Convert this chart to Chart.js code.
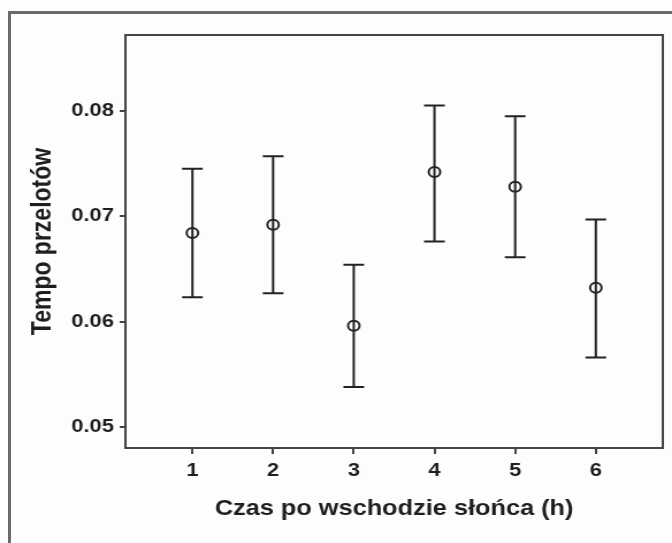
<!DOCTYPE html>
<html>
<head>
<meta charset="utf-8">
<script src="https://cdn.jsdelivr.net/npm/chart.js@4.4.1/dist/chart.umd.min.js"></script>
<style>
  html, body { margin: 0; padding: 0; background: #fdfdfd; overflow: hidden; }
  #frame {
    position: absolute; left: 8px; top: 11px; width: 720px; height: 600px;
    border: 3px solid #6a6a6a; box-sizing: border-box;
  }
  /* figure is drawn narrower and stretched sideways, like the original export */
  #wrap {
    position: absolute; left: 0; top: 0; width: 584px; height: 543px;
    transform: scaleX(1.1507); transform-origin: 0 0;
  }
</style>
</head>
<body>
<div id="frame"></div>
<div id="wrap"><canvas id="chart"></canvas></div>
<script>
let hours = [1, 2, 3, 4, 5, 6]
let tempo = [0.0684, 0.0692, 0.0596, 0.0742, 0.0728, 0.0632]
let tempoLow = [0.0623, 0.0627, 0.0538, 0.0676, 0.0661, 0.0566]
let tempoHigh = [0.0745, 0.0757, 0.0654, 0.0805, 0.0795, 0.0697]
let xTicks = [1, 2, 3, 4, 5, 6]
let yTicks = [0.05, 0.06, 0.07, 0.08]

let ink = "#1e1e1e"
let font = "'Liberation Sans', Arial, sans-serif"

// whiskers with caps, drawn from the scales
const errorBars = {
    id: "errorBars",
    beforeDatasetsDraw(chart) {
        const ctx = chart.ctx;
        const xs = chart.scales.x, ys = chart.scales.y;
        ctx.save();
        ctx.strokeStyle = "#222";
        ctx.lineWidth = 2;
        for (let i = 0; i < hours.length; i++) {
            let px = xs.getPixelForValue(hours[i]);
            let top = ys.getPixelForValue(tempoHigh[i]);
            let bot = ys.getPixelForValue(tempoLow[i]);
            ctx.beginPath();
            ctx.moveTo(px, top); ctx.lineTo(px, bot);
            ctx.moveTo(px - 9, top); ctx.lineTo(px + 9, top);
            ctx.moveTo(px - 9, bot); ctx.lineTo(px + 9, bot);
            ctx.stroke();
        }
        ctx.restore();
    }
};

// closed box around the plot area
const plotBox = {
    id: "plotBox",
    afterDraw(chart) {
        const {left, top, width, height} = chart.chartArea;
        const ctx = chart.ctx;
        ctx.save();
        ctx.strokeStyle = "#444";
        ctx.lineWidth = 2;
        ctx.strokeRect(left, top, width, height);
        ctx.restore();
    }
};

new Chart(document.getElementById("chart"), {
    type: "scatter",
    data: {
        datasets: [{
            data: hours.map((h, i) => ({x: h, y: tempo[i]})),
            pointStyle: "circle",
            pointRadius: 5,
            pointBorderWidth: 2,
            pointBorderColor: "#222",
            pointBackgroundColor: "rgba(0,0,0,0)"
        }]
    },
    options: {
        responsive: true,
        maintainAspectRatio: false,
        animation: false,
        layout: { padding: { top: 35, right: 8, left: 0, bottom: 0 } },
        plugins: { legend: { display: false }, tooltip: { enabled: false } },
        scales: {
            x: {
                type: "linear",
                min: 0.17,
                max: 6.83,
                afterFit: s => { s.height = 95 },
                afterBuildTicks: s => { s.ticks = xTicks.map(v => ({value: v})) },
                border: { display: false },
                grid: { drawOnChartArea: false, drawTicks: true, tickLength: 6, color: "#444", lineWidth: 2 },
                ticks: { padding: 5, color: ink, font: { family: font, size: 19, weight: "bold" } },
                title: {
                    display: true,
                    text: "Czas po wschodzie słońca (h)",
                    color: ink,
                    padding: { top: 0, bottom: 21 },
                    font: { family: font, size: 22, weight: "bold" }
                }
            },
            y: {
                min: 0.048,
                max: 0.0872,
                afterFit: s => { s.width = 109 },
                afterBuildTicks: s => { s.ticks = yTicks.map(v => ({value: v})) },
                border: { display: false },
                grid: { drawOnChartArea: false, drawTicks: true, tickLength: 5, color: "#444", lineWidth: 2 },
                ticks: {
                    padding: 5,
                    color: ink,
                    font: { family: font, size: 19, weight: "bold" },
                    callback: v => v.toFixed(2)
                },
                title: {
                    display: true,
                    text: "Tempo przelotów",
                    color: ink,
                    padding: { top: 24, bottom: 0 },
                    font: { family: font, size: 23, weight: "bold" }
                }
            }
        }
    },
    plugins: [errorBars, plotBox]
});
</script>
</body>
</html>
